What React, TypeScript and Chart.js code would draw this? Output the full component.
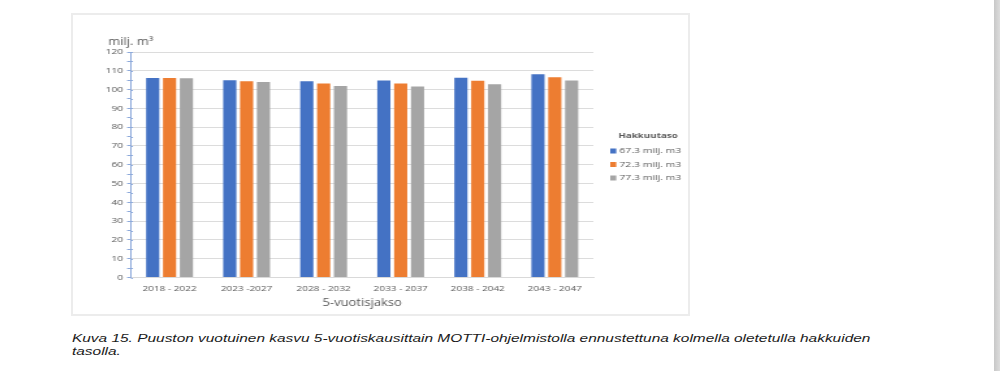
import React, { useEffect, useRef } from 'react';
import { Chart, registerables } from 'chart.js';

Chart.register(...registerables);

const categories = ['2018 - 2022', '2023 -2027', '2028 - 2032', '2033 - 2037', '2038 - 2042', '2043 - 2047'];
const seriesLabels = ['67.3 milj. m3', '72.3 milj. m3', '77.3 milj. m3'];
const series673 = [106.1, 105.0, 104.5, 104.9, 106.3, 108.2];
const series723 = [106.1, 104.5, 103.3, 103.3, 104.7, 106.6];
const series773 = [106.0, 104.0, 101.9, 101.7, 102.8, 104.9];
const seriesColors = ['#4472c4', '#ed7d31', '#a5a5a5'];
const yMin = 0;
const yMax = 120;
const yMinorStep = 5;
const yLabelStep = 10;
const legendTitle = 'Hakkuutaso';
const yAxisTitle = 'milj. m³';
const xAxisTitle = '5-vuotisjakso';
const captionLines = [
  'Kuva 15. Puuston vuotuinen kasvu 5-vuotiskausittain MOTTI-ohjelmistolla ennustettuna kolmella oletetulla hakkuiden',
  'tasolla.',
];

const CW = 472;
const CH = 298;
const SX = 614 / CW;
const FONT = '"Open Sans", "DejaVu Sans", sans-serif';
const TXT = '#595959';

export default function App() {
  const canvasRef = useRef<HTMLCanvasElement | null>(null);
  const line1Ref = useRef<HTMLDivElement | null>(null);
  const line2Ref = useRef<HTMLDivElement | null>(null);

  useEffect(() => {
    if (line1Ref.current && line2Ref.current) {
      const w = line1Ref.current.offsetWidth;
      const s = w > 0 ? 798 / w : 1;
      line1Ref.current.style.transform = `scaleX(${s})`;
      line2Ref.current.style.transform = `scaleX(${s})`;
    }
    const canvas = canvasRef.current;
    if (!canvas) return;
    const overlay = {
      id: 'overlay',
      afterDraw(chart: any) {
        const ctx = chart.ctx;
        ctx.save();
        ctx.fillStyle = TXT;
        ctx.font = `10px ${FONT}`;
        ctx.textAlign = 'left';
        ctx.textBaseline = 'alphabetic';
        ctx.fillText(yAxisTitle, 27, 29.5);
        ctx.font = `bold 7.5px ${FONT}`;
        ctx.textBaseline = 'middle';
        ctx.fillText(legendTitle, 419.2, 121);
        ctx.font = `8px ${FONT}`;
        chart.data.datasets.forEach((ds: any, i: number) => {
          const y = 136 + i * 13.5;
          ctx.fillStyle = ds.backgroundColor;
          ctx.fillRect(413, y - 2.5, 4.6, 5);
          ctx.fillStyle = TXT;
          ctx.fillText(ds.label, 420, y);
        });
        // minor ticks crossing the y axis on the inner side
        const ys = chart.scales.y;
        ctx.strokeStyle = '#8eaadb';
        ctx.lineWidth = 1;
        for (let v = yMin; v <= yMax; v += yMinorStep) {
          const py = Math.round(ys.getPixelForValue(v)) + 0.5;
          ctx.beginPath();
          ctx.moveTo(ys.right, py);
          ctx.lineTo(ys.right + 1.5, py);
          ctx.stroke();
        }
        ctx.restore();
      },
    };
    const chart = new Chart(canvas, {
      type: 'bar',
      data: {
        labels: categories,
        datasets: [series673, series723, series773].map((d, i) => ({
          label: seriesLabels[i],
          data: d,
          backgroundColor: seriesColors[i],
          borderWidth: 0,
          categoryPercentage: 0.656,
          barPercentage: 0.78,
        })),
      },
      options: {
        animation: false,
        responsive: false,
        devicePixelRatio: 1,
        layout: { padding: { left: 0, top: 37, right: 72, bottom: 0 } },
        plugins: {
          legend: { display: false },
          title: { display: false },
          tooltip: { enabled: false },
        },
        scales: {
          x: {
            grid: { display: false, drawTicks: false },
            border: { display: true, color: '#d9d9d9', width: 1 },
            ticks: { color: TXT, font: { family: FONT, size: 7.7 }, padding: 7, maxRotation: 0, autoSkip: false },
            title: { display: true, text: xAxisTitle, color: TXT, font: { family: FONT, size: 10 }, padding: { top: 0, bottom: 3.5 } },
            afterFit: (scale: any) => { scale.height = 35.5; },
          },
          y: {
            min: yMin,
            max: yMax,
            grid: {
              color: (c: any) => (c.tick && c.tick.value % yLabelStep === 0 ? '#dcdcdc' : 'rgba(0,0,0,0)'),
              tickColor: '#8eaadb',
              tickLength: 3,
              lineWidth: 1,
            },
            border: { display: true, color: '#8eaadb', width: 1 },
            ticks: {
              stepSize: yMinorStep,
              autoSkip: false,
              color: TXT,
              font: { family: FONT, size: 8 },
              padding: 3,
              callback: (v: any) => (Number(v) % yLabelStep === 0 ? String(v) : ''),
            },
            afterFit: (scale: any) => { scale.width = 44.6; },
          },
        },
      },
      plugins: [overlay],
    } as any);
    return () => chart.destroy();
  }, []);

  return (
    <div style={{ position: 'fixed', left: 0, top: 0, width: 1000, height: 371, background: '#ffffff', overflow: 'hidden' }}>
      <div style={{ position: 'absolute', left: 71, top: 13, width: 619, height: 303, border: '2px solid #ececec', boxSizing: 'border-box' }} />
      <div style={{ position: 'absolute', left: 73, top: 15, width: CW, height: CH, transform: `scaleX(${SX})`, transformOrigin: '0 0' }}>
        <canvas ref={canvasRef} width={CW} height={CH} style={{ width: CW, height: CH, display: 'block' }} />
      </div>
      <div
        ref={line1Ref}
        style={{ position: 'absolute', left: 72, top: 331, whiteSpace: 'nowrap', font: 'italic 11px "Liberation Sans", Arial, sans-serif', lineHeight: '14px', color: '#1a1a1a', transformOrigin: '0 0' }}
      >
        {captionLines[0]}
      </div>
      <div
        ref={line2Ref}
        style={{ position: 'absolute', left: 72, top: 344, whiteSpace: 'nowrap', font: 'italic 11px "Liberation Sans", Arial, sans-serif', lineHeight: '14px', color: '#1a1a1a', transformOrigin: '0 0' }}
      >
        {captionLines[1]}
      </div>
      <div style={{ position: 'absolute', left: 994, top: 0, width: 6, height: 371, background: 'linear-gradient(to right, #c8c8c8, #dcdcdc)' }} />
    </div>
  );
}
